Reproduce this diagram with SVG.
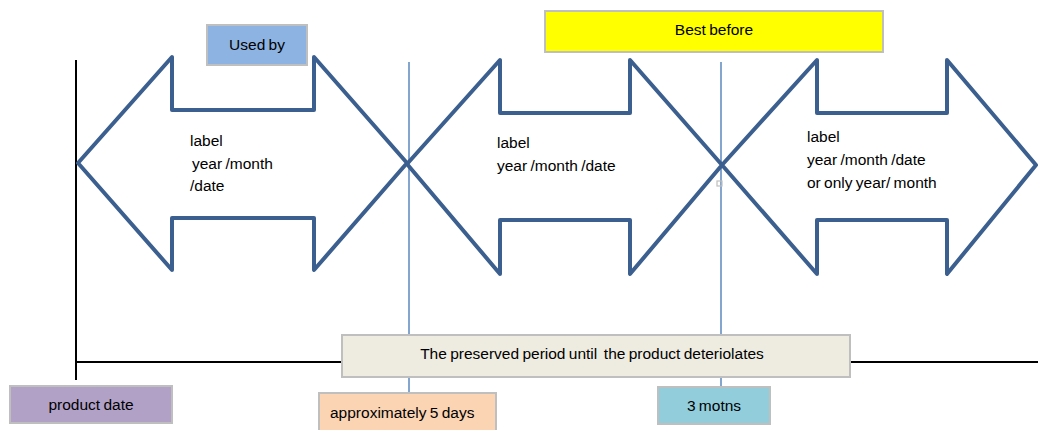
<svg xmlns="http://www.w3.org/2000/svg" width="1038" height="430" viewBox="0 0 1038 430">
<style>
text{font-family:"Liberation Sans",Arial,sans-serif;font-size:15.5px;word-spacing:-1px;fill:#000}
.c{text-anchor:middle}
.arrow{fill:none;stroke:#3B5F8E;stroke-width:4;stroke-linejoin:round}
.box{stroke:#BFBFBF;stroke-width:2}
.axis{stroke:#000;stroke-width:2;fill:none}
.guide{stroke:#5B87C0;stroke-width:1.5;fill:none}
</style>
<rect width="1038" height="430" fill="#fff"/>
<g id="connectors">
<line class="axis" x1="76" y1="60" x2="76" y2="380"/>
<line class="axis" x1="76" y1="362" x2="1038" y2="362"/>
<line class="guide" x1="409" y1="62" x2="409" y2="394"/>
<line class="guide" x1="721" y1="62" x2="721" y2="387"/>
</g>
<g id="arrow1"><polygon class="arrow" points="78,163 172,57 172,110 314,110 314,57 407,163 314,270 314,218 172,218 172,270"/>
<text x="190" y="146">label</text><text x="192" y="169">year /month</text><text x="190" y="191">/date</text></g>
<g id="arrow2"><polygon class="arrow" points="407,164 500,60 500,113 630,113 630,60 722,165 630,274 630,220 500,220 500,274"/>
<text x="497" y="148">label</text><text x="497" y="171">year /month /date</text></g>
<g id="arrow3"><polygon class="arrow" points="722,165 817,60 817,113 947,113 947,60 1036,165 947,274 947,220 817,220 817,274"/>
<text x="807" y="142">label</text><text x="807" y="165">year /month /date</text><text x="807" y="188">or only year/ month</text></g>
<rect x="717" y="181" width="5" height="5" fill="none" stroke="#BFBFBF" stroke-width="1.2"/>
<g id="usedby"><rect class="box" x="207" y="25" width="100" height="40" fill="#8DB3E2"/><text class="c" x="257" y="50">Used by</text></g>
<g id="bestbefore"><rect class="box" x="545" y="11" width="338" height="41" fill="#FFFF00"/><text class="c" x="714" y="35">Best before</text></g>
<g id="preserved"><rect class="box" x="342" y="335" width="508" height="42" fill="#EEECE1"/><text class="c" x="592" y="359" xml:space="preserve">The preserved period until  the product deteriolates</text></g>
<g id="productdate"><rect class="box" x="10" y="386" width="162" height="37" fill="#B2A1C7"/><text class="c" x="91" y="410">product date</text></g>
<g id="fivedays"><rect class="box" x="319" y="393" width="177" height="40" fill="#FBD4B4"/><text x="330" y="418">approximately 5 days</text></g>
<g id="threemonths"><rect class="box" x="658" y="387" width="112" height="37" fill="#92CDDC"/><text class="c" x="714" y="411">3 motns</text></g>
</svg>
